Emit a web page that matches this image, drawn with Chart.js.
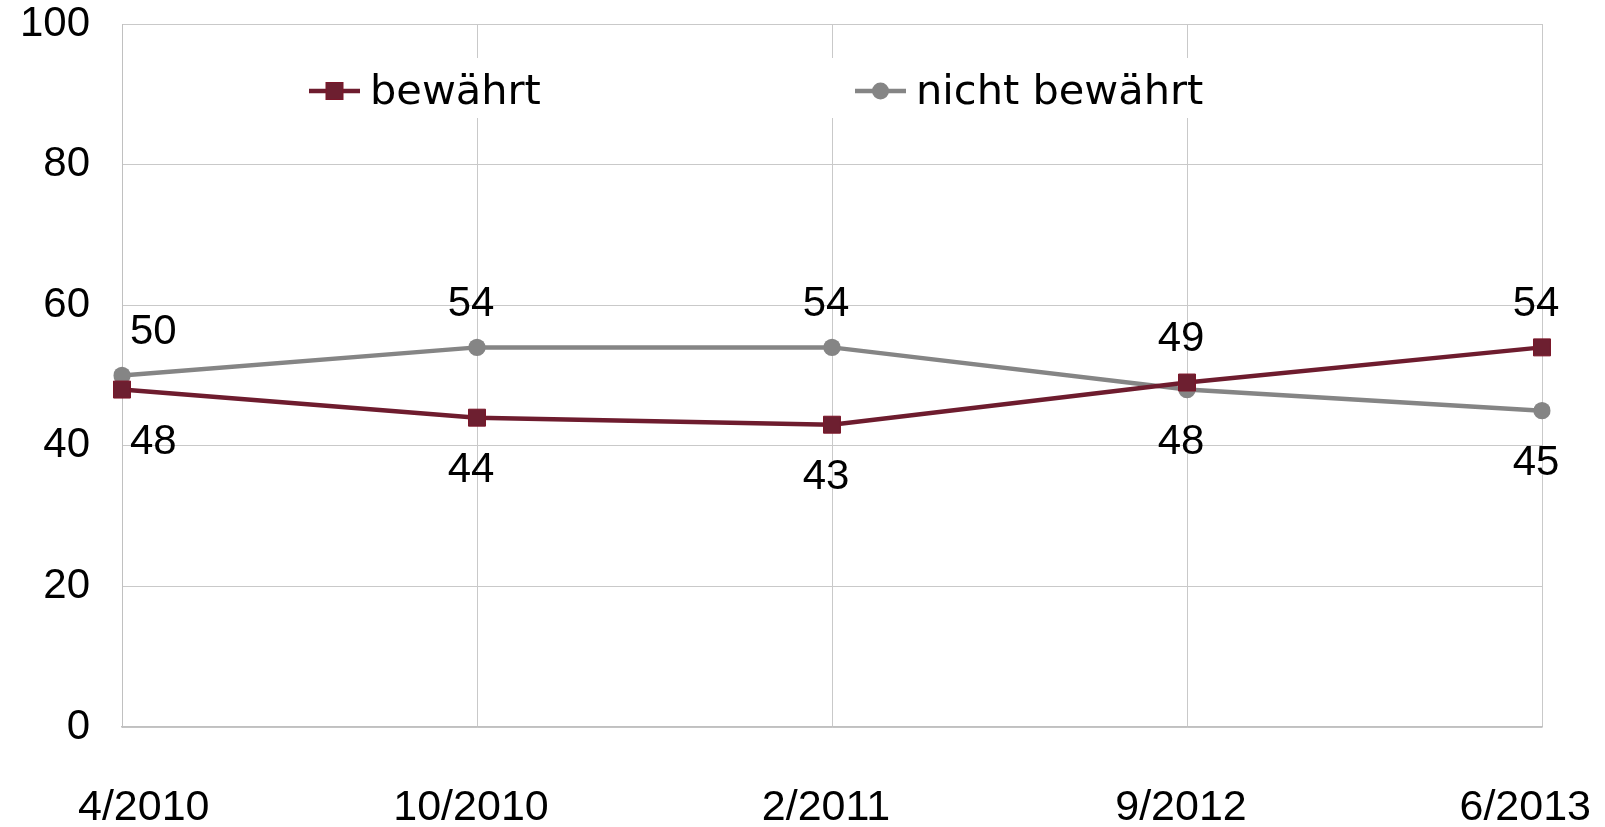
<!DOCTYPE html>
<html lang="de">
<head>
<meta charset="utf-8">
<title>bewährt / nicht bewährt</title>
<script src="https://cdn.jsdelivr.net/npm/chart.js@4/dist/chart.umd.min.js"></script>
<style>
  html, body { margin: 0; padding: 0; background: #fff; }
  #wrap { width: 1605px; height: 827px; position: relative; }
</style>
</head>
<body>
<div id="wrap"><canvas id="chart"></canvas></div>
<script>
const categories = ['4/2010', '10/2010', '2/2011', '9/2012', '6/2013'];
const bewaehrt = [48, 44, 43, 49, 54];
const nichtBewaehrt = [50, 54, 54, 48, 45];
const yTicks = [0, 20, 40, 60, 80, 100];

const NUM_FONT = '"Liberation Sans", Arial, sans-serif';
const LEGEND_FONT = '"DejaVu Sans", Verdana, sans-serif';
const MAROON = '#6e1c2e';
const GRAY = '#858585';
const GRID = '#c9c9c9';

// where each value label sits relative to its point
const labelSide = [
  ['below', 'below', 'below', 'above', 'above'],
  ['above', 'above', 'above', 'below', 'below']
];

const xLabelsPlugin = {
  id: 'xLabels',
  afterDraw(chart) {
    const { ctx, scales: { x }, chartArea } = chart;
    ctx.save();
    ctx.font = `43px ${NUM_FONT}`;
    ctx.fillStyle = '#000';
    ctx.textAlign = 'center';
    ctx.textBaseline = 'middle';
    chart.data.labels.forEach((label, i) => {
      const w = ctx.measureText(label).width;
      let cx = x.getPixelForValue(i) - 6;
      cx = Math.min(Math.max(cx, 78 + w / 2), 1591 - w / 2);
      ctx.fillText(label, cx, chartArea.bottom + 81);
    });
    ctx.restore();
  }
};

const legendPlugin = {
  id: 'boxLegend',
  beforeDatasetsDraw(chart) {
    const { ctx } = chart;
    ctx.save();
    ctx.fillStyle = '#fff';
    ctx.fillRect(292, 58, 925, 60);

    const items = [
      { x: 309, ds: chart.data.datasets[0] },
      { x: 855, ds: chart.data.datasets[1] }
    ];
    const y = 91;
    items.forEach(({ x, ds }) => {
      ctx.strokeStyle = ds.borderColor;
      ctx.lineWidth = 4.5;
      ctx.beginPath();
      ctx.moveTo(x, y);
      ctx.lineTo(x + 51, y);
      ctx.stroke();
      ctx.fillStyle = ds.pointBackgroundColor;
      const cx = x + 25.5;
      if (ds.pointStyle === 'rect') {
        ctx.fillRect(cx - 8.5, y - 8.5, 17, 17);
        ctx.strokeStyle = ds.pointBorderColor;
        ctx.lineWidth = 1;
        ctx.strokeRect(cx - 8.5, y - 8.5, 17, 17);
      } else {
        ctx.beginPath();
        ctx.arc(cx, y, 8.5, 0, Math.PI * 2);
        ctx.fill();
      }
      ctx.fillStyle = '#000';
      ctx.font = `41.5px ${LEGEND_FONT}`;
      ctx.textAlign = 'left';
      ctx.textBaseline = 'middle';
      ctx.fillText(ds.label, x + 61, y + 2);
    });
    ctx.restore();
  }
};

const valueLabelsPlugin = {
  id: 'valueLabels',
  afterDatasetsDraw(chart) {
    const { ctx, chartArea } = chart;
    ctx.save();
    ctx.font = `42px ${NUM_FONT}`;
    ctx.fillStyle = '#000';
    ctx.textAlign = 'center';
    ctx.textBaseline = 'middle';
    chart.data.datasets.forEach((ds, d) => {
      const meta = chart.getDatasetMeta(d);
      meta.data.forEach((pt, i) => {
        const text = String(ds.data[i]);
        const w = ctx.measureText(text).width;
        const dy = labelSide[d][i] === 'above' ? -43 : 53;
        const cx = Math.max(pt.x - 6, chartArea.left + w / 2 + 8);
        ctx.fillText(text, cx, pt.y + dy);
      });
    });
    ctx.restore();
  }
};

new Chart(document.getElementById('chart'), {
  type: 'line',
  data: {
    labels: categories,
    datasets: [
      {
        label: 'bewährt',
        data: bewaehrt,
        borderColor: MAROON,
        backgroundColor: MAROON,
        borderWidth: 4.5,
        pointStyle: 'rect',
        pointRadius: 12,
        pointBackgroundColor: '#6d1f30',
        pointBorderColor: '#7c1629',
        pointBorderWidth: 1,
        tension: 0
      },
      {
        label: 'nicht bewährt',
        data: nichtBewaehrt,
        borderColor: GRAY,
        backgroundColor: GRAY,
        borderWidth: 4.5,
        pointStyle: 'circle',
        pointRadius: 8.7,
        pointBackgroundColor: GRAY,
        pointBorderColor: GRAY,
        pointBorderWidth: 0,
        tension: 0
      }
    ]
  },
  options: {
    responsive: true,
    maintainAspectRatio: false,
    animation: false,
    layout: { padding: { top: 24, right: 63, bottom: 100, left: 0 } },
    plugins: {
      legend: { display: false },
      tooltip: { enabled: false }
    },
    scales: {
      x: {
        offset: false,
        grid: { color: GRID, lineWidth: 1, drawTicks: false },
        border: { color: '#c0c0c0', width: 1.5 },
        ticks: { display: false }
      },
      y: {
        min: 0,
        max: 100,
        afterBuildTicks: (scale) => {
          scale.ticks = yTicks.map((v) => ({ value: v }));
        },
        afterFit: (scale) => {
          scale.width = 122;
          scale.paddingTop = 0;
          scale.paddingBottom = 0;
        },
        grid: { color: GRID, lineWidth: 1, drawTicks: false },
        border: { color: '#c0c0c0', width: 1 },
        ticks: {
          padding: 32,
          color: '#000',
          font: { family: NUM_FONT, size: 42 }
        }
      }
    }
  },
  plugins: [legendPlugin, valueLabelsPlugin, xLabelsPlugin]
});
</script>
</body>
</html>
